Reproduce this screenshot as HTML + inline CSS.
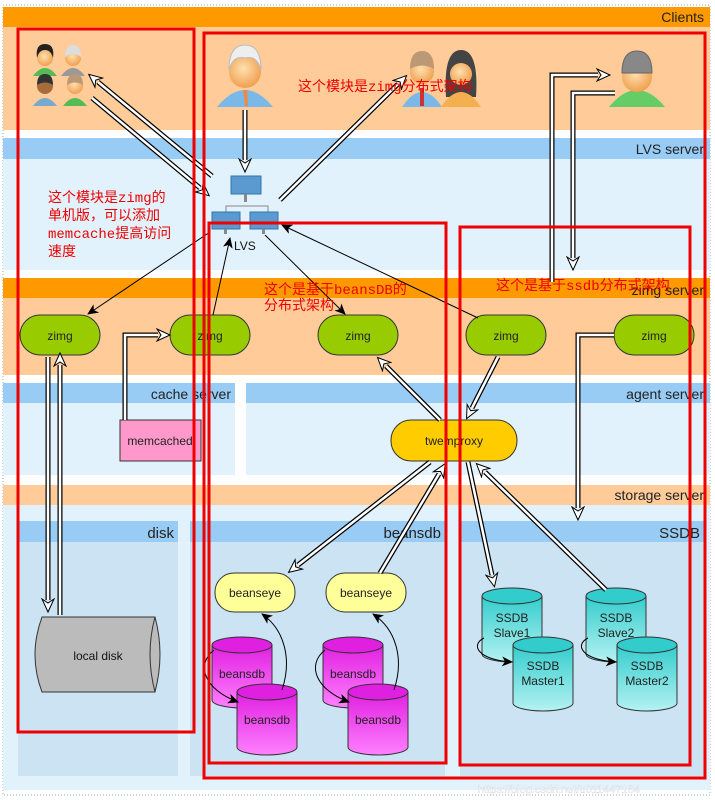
<!DOCTYPE html>
<html><head><meta charset="utf-8"><style>
html,body{margin:0;padding:0;background:#fff;}
svg{display:block;font-family:"Liberation Sans","DejaVu Sans",sans-serif;}
.red{font-family:"Liberation Mono","Noto Sans CJK SC",monospace;fill:#e00;font-size:14px;}
</style></head><body>
<svg width="715" height="800" viewBox="0 0 715 800" xmlns="http://www.w3.org/2000/svg">
<defs>
<marker id="oh" markerUnits="userSpaceOnUse" markerWidth="16" markerHeight="14" refX="2" refY="7" orient="auto">
<path d="M1,1 L14,7 L1,13 L5,7 z" fill="#fff" stroke="#000" stroke-width="1"/></marker>
<marker id="fh" markerUnits="userSpaceOnUse" markerWidth="12" markerHeight="10" refX="10" refY="5" orient="auto">
<path d="M0,0 L11,5 L0,10 L3,5 z" fill="#000"/></marker>
<linearGradient id="pk" x1="0" x2="0" y1="0" y2="1"><stop offset="0" stop-color="#e020e0"/><stop offset="1" stop-color="#ff80ff"/></linearGradient>
<linearGradient id="tl" x1="0" x2="0" y1="0" y2="1"><stop offset="0" stop-color="#33cccc"/><stop offset="1" stop-color="#b5f2f2"/></linearGradient>
<radialGradient id="sk" cx="0.45" cy="0.4" r="0.6"><stop offset="0" stop-color="#ffe0b0"/><stop offset="1" stop-color="#f0a050"/></radialGradient>
</defs>
<rect x="3" y="5" width="707" height="790" fill="#fff" stroke="#9ab" stroke-dasharray="1,2"/>
<rect x="3" y="7" width="707" height="20" fill="#ff9900"/>
<rect x="3" y="27" width="707" height="103" fill="#ffcc99"/>
<text x="704" y="22" text-anchor="end" font-size="14" fill="#222">Clients</text>
<rect x="3" y="138" width="707" height="21" fill="#99ccf5"/>
<rect x="3" y="159" width="707" height="111" fill="#e2f2fc"/>
<text x="704" y="154" text-anchor="end" font-size="14" fill="#222">LVS server</text>
<rect x="3" y="278" width="707" height="20" fill="#ff9900"/>
<rect x="3" y="298" width="707" height="77" fill="#ffcc99"/>
<text x="704" y="295" text-anchor="end" font-size="14" fill="#222">zimg server</text>
<rect x="3" y="383" width="232" height="20" fill="#99ccf5"/>
<rect x="3" y="403" width="232" height="72" fill="#e2f2fc"/>
<text x="231" y="399" text-anchor="end" font-size="14" fill="#222">cache server</text>
<rect x="246" y="383" width="464" height="20" fill="#99ccf5"/>
<rect x="246" y="403" width="464" height="72" fill="#e2f2fc"/>
<text x="704" y="399" text-anchor="end" font-size="14" fill="#222">agent server</text>
<rect x="3" y="485" width="707" height="20" fill="#ffcc99"/>
<rect x="3" y="505" width="707" height="285" fill="#e2f2fc"/>
<text x="704" y="500" text-anchor="end" font-size="14" fill="#222">storage server</text>
<rect x="18" y="521" width="160" height="21" fill="#99ccf5"/><rect x="18" y="542" width="160" height="234" fill="#cce3f4"/>
<text x="174" y="538" text-anchor="end" font-size="15" fill="#222">disk</text>
<rect x="190" y="521" width="255" height="21" fill="#99ccf5"/><rect x="190" y="542" width="255" height="234" fill="#cce3f4"/>
<text x="441" y="538" text-anchor="end" font-size="15" fill="#222">beansdb</text>
<rect x="460" y="521" width="245" height="21" fill="#99ccf5"/><rect x="460" y="542" width="245" height="234" fill="#cce3f4"/>
<text x="700" y="538" text-anchor="end" font-size="15" fill="#222">SSDB</text>

<!-- people -->
<g>
<path d="M33,76 q12,-16 24,0z" fill="#5b5"/><circle cx="45" cy="58" r="8" fill="url(#sk)"/><path d="M37,58 q-2,-14 8,-14 q10,0 8,14 q-2,-8 -8,-8 q-6,0 -8,8z" fill="#222"/>
<path d="M61,76 q12,-16 24,0z" fill="#999"/><circle cx="73" cy="58" r="8" fill="url(#sk)"/><path d="M65,57 q0,-12 8,-12 q8,0 8,12 q-8,-6 -16,0z" fill="#ddd"/>
<path d="M33,106 q12,-16 24,0z" fill="#7ac"/><circle cx="45" cy="86" r="8" fill="#a76c3c"/><path d="M37,85 q0,-11 8,-11 q8,0 8,11 q-8,-5 -16,0z" fill="#333"/>
<path d="M63,106 q12,-16 24,0z" fill="#5b5"/><circle cx="75" cy="86" r="8" fill="url(#sk)"/><path d="M67,85 q0,-11 8,-11 q8,0 8,11 q-8,-5 -16,0z" fill="#b97"/>
</g>
<g>
<path d="M217,107 q28,-34 56,0z" fill="#7ab8e8"/><path d="M243,90 l4,0 l1,16 l-3,0z" fill="#e84"/>
<circle cx="245" cy="72" r="16" fill="url(#sk)"/><path d="M229,70 q0,-25 16,-25 q16,0 16,25 q-4,-15 -16,-12 q-12,-3 -16,12z" fill="#eee" stroke="#bbb"/>
</g>
<g>
<path d="M402,107 q20,-30 40,0z" fill="#7ab8e8"/><rect x="420" y="88" width="4" height="18" fill="#c33"/>
<circle cx="422" cy="72" r="12" fill="url(#sk)"/><path d="M410,69 q0,-18 12,-18 q12,0 12,18 q-12,-7 -24,0z" fill="#b97"/>
<path d="M446,97 q-3,-47 15,-47 q18,0 15,47 z" fill="#444"/><path d="M441,107 q20,-30 40,0z" fill="#f4b050"/>
<circle cx="461" cy="74" r="11" fill="url(#sk)"/>
</g>
<g>
<path d="M609,107 q28,-34 56,0z" fill="#6c6"/>
<circle cx="637" cy="77" r="15" fill="url(#sk)"/><path d="M622,73 q0,-22 15,-22 q15,0 15,22z" fill="#888" stroke="#666"/>
</g>
<!-- LVS icon -->
<g>
<rect x="231" y="176" width="30" height="18" fill="#5a9ad0" stroke="#37a"/><rect x="244" y="194" width="3" height="8" fill="#888"/>
<path d="M226,212 v-6 h42 v6" fill="none" stroke="#888"/>
<rect x="212" y="212" width="28" height="17" fill="#5a9ad0" stroke="#37a"/><rect x="224" y="229" width="3" height="5" fill="#888"/>
<rect x="250" y="212" width="28" height="17" fill="#5a9ad0" stroke="#37a"/><rect x="262" y="229" width="3" height="5" fill="#888"/>
<text x="234" y="250" font-size="12" fill="#111">LVS</text>
</g>
<g font-size="12" fill="#222" text-anchor="middle">
<rect x="20" y="315" width="80" height="40" rx="20" fill="#99cc00" stroke="#333"/><text x="60" y="340">zimg</text>
<rect x="170" y="315" width="80" height="40" rx="20" fill="#99cc00" stroke="#333"/><text x="210" y="340">zimg</text>
<rect x="318" y="315" width="80" height="40" rx="20" fill="#99cc00" stroke="#333"/><text x="358" y="340">zimg</text>
<rect x="466" y="315" width="80" height="40" rx="20" fill="#99cc00" stroke="#333"/><text x="506" y="340">zimg</text>
<rect x="614" y="315" width="80" height="40" rx="20" fill="#99cc00" stroke="#333"/><text x="654" y="340">zimg</text>
<rect x="120" y="420" width="81" height="41" fill="#ff99cc" stroke="#333"/><text x="160" y="445">memcached</text>
<rect x="391" y="420" width="126" height="41" rx="20" fill="#ffcc00" stroke="#333"/><text x="454" y="445">twemproxy</text>
<rect x="215" y="573" width="80" height="39" rx="19" fill="#ffff99" stroke="#333"/><text x="255" y="597">beanseye</text>
<rect x="326" y="573" width="80" height="39" rx="19" fill="#ffff99" stroke="#333"/><text x="366" y="597">beanseye</text>
</g>
<path d="M42,617 h113 q10,37 0,75 h-113 q-14,-37 0,-75z" fill="#bbb" stroke="#333"/>
<path d="M155,617 q-10,37 0,75" fill="none" stroke="#333"/>
<text x="98" y="660" font-size="12" text-anchor="middle" fill="#111">local disk</text>
<g font-size="12" text-anchor="middle" fill="#222">
<g><path d="M212,645 v55 a30,8 0 0 0 60,0 v-55" fill="url(#pk)" stroke="#333"/><ellipse cx="242" cy="645" rx="30" ry="8" fill="#e020e0" stroke="#333"/><text x="242" y="678">beansdb</text></g>
<g><path d="M237,692 v55 a30,8 0 0 0 60,0 v-55" fill="url(#pk)" stroke="#333"/><ellipse cx="267" cy="692" rx="30" ry="8" fill="#e020e0" stroke="#333"/><text x="267" y="724">beansdb</text></g>
<g><path d="M323,645 v55 a30,8 0 0 0 60,0 v-55" fill="url(#pk)" stroke="#333"/><ellipse cx="353" cy="645" rx="30" ry="8" fill="#e020e0" stroke="#333"/><text x="353" y="678">beansdb</text></g>
<g><path d="M348,692 v55 a30,8 0 0 0 60,0 v-55" fill="url(#pk)" stroke="#333"/><ellipse cx="378" cy="692" rx="30" ry="8" fill="#e020e0" stroke="#333"/><text x="378" y="724">beansdb</text></g>
<g><path d="M482,596 v58 a30,8 0 0 0 60,0 v-58" fill="url(#tl)" stroke="#333"/><ellipse cx="512" cy="596" rx="30" ry="8" fill="#33cccc" stroke="#333"/><text x="512" y="622">SSDB</text><text x="512" y="637">Slave1</text></g>
<g><path d="M513,645 v58 a30,8 0 0 0 60,0 v-58" fill="url(#tl)" stroke="#333"/><ellipse cx="543" cy="645" rx="30" ry="8" fill="#33cccc" stroke="#333"/><text x="543" y="670">SSDB</text><text x="543" y="685">Master1</text></g>
<g><path d="M586,596 v58 a30,8 0 0 0 60,0 v-58" fill="url(#tl)" stroke="#333"/><ellipse cx="616" cy="596" rx="30" ry="8" fill="#33cccc" stroke="#333"/><text x="616" y="622">SSDB</text><text x="616" y="637">Slave2</text></g>
<g><path d="M617,645 v58 a30,8 0 0 0 60,0 v-58" fill="url(#tl)" stroke="#333"/><ellipse cx="647" cy="645" rx="30" ry="8" fill="#33cccc" stroke="#333"/><text x="647" y="670">SSDB</text><text x="647" y="685">Master2</text></g>
</g>
<g fill="none" stroke-linejoin="miter">
<g stroke="#000" stroke-width="5" marker-end="url(#oh)">
<path d="M212,176 L98,82"/><path d="M92,98 L200,188"/>
<path d="M245,110 V160"/><path d="M280,200 L398,84"/>
<path d="M552,282 V75 H598"/><path d="M615,93 H573 V258"/>
<path d="M60,615 V365"/><path d="M48,357 V600"/>
<path d="M125,420 V335 H158"/><path d="M614,335 H578 V508"/>
<path d="M440,420 L386,366"/><path d="M498,357 L472,408"/>
<path d="M430,462 L298,565"/><path d="M380,573 L439,474"/>
<path d="M468,462 L492,575"/><path d="M606,590 L485,472"/>
</g>
<g stroke="#fff" stroke-width="2.5">
<path d="M212,176 L98,82"/><path d="M92,98 L200,188"/>
<path d="M245,110 V160"/><path d="M280,200 L398,84"/>
<path d="M552,282 V75 H598"/><path d="M615,93 H573 V258"/>
<path d="M60,615 V365"/><path d="M48,357 V600"/>
<path d="M125,420 V335 H158"/><path d="M614,335 H578 V508"/>
<path d="M440,420 L386,366"/><path d="M498,357 L472,408"/>
<path d="M430,462 L298,565"/><path d="M380,573 L439,474"/>
<path d="M468,462 L492,575"/><path d="M606,590 L485,472"/>
</g>
<g stroke="#000" stroke-width="1" marker-end="url(#fh)">
<path d="M210,232 L88,314"/><path d="M213,315 L230,238"/>
<path d="M265,235 L345,314"/><path d="M478,318 L282,225"/>
<path d="M282,690 C292,660 285,630 262,614"/><path d="M394,690 C404,660 397,630 373,614"/>
<path d="M214,650 C195,665 205,690 238,702"/><path d="M325,650 C306,665 316,690 349,702"/>
<path d="M484,638 C470,645 478,660 512,662"/><path d="M588,638 C574,645 582,660 616,662"/>
</g>
</g>
<g fill="none" stroke="#ee0000" stroke-width="3">
<rect x="18" y="29" width="176" height="703"/>
<rect x="204" y="33" width="501" height="745"/>
<rect x="209" y="223" width="237" height="540"/>
<rect x="460" y="227" width="230" height="538"/>
</g>
<text class="red" x="298" y="91">这个模块是zimg分布式架构</text>
<text class="red" x="48" y="202">这个模块是zimg的</text>
<text class="red" x="48" y="220">单机版，可以添加</text>
<text class="red" x="48" y="238">memcache提高访问</text>
<text class="red" x="48" y="256">速度</text>
<text class="red" x="264" y="294">这个是基于beansDB的</text>
<text class="red" x="264" y="310">分布式架构</text>
<text class="red" x="496" y="290">这个是基于ssdb分布式架构</text>
<text x="478" y="793" font-size="11" fill="#fff" stroke="#ccc" stroke-width="0.3">https://blog.csdn.net/u011447164</text>
</svg>
</body></html>
